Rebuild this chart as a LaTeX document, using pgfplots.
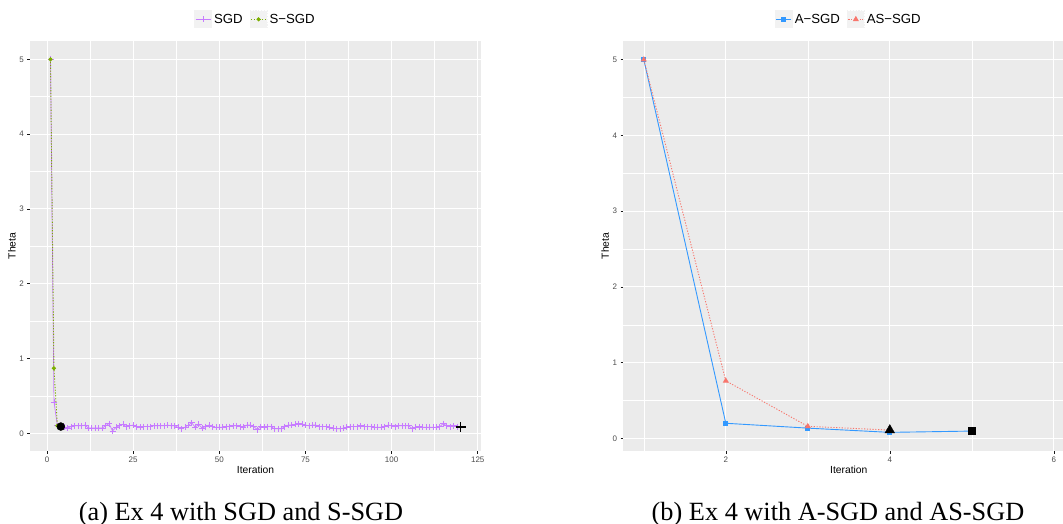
\documentclass[border=0pt]{standalone}
\usepackage{pgfplots}
\pgfplotsset{compat=1.18}
\usepackage{fontspec}
\setmainfont{Liberation Sans}
\newfontfamily\capfont{Liberation Serif}

\definecolor{sgd}{HTML}{C77CFF}
\definecolor{ssgd}{HTML}{7CAE00}
\definecolor{asgd}{HTML}{3399FF}
\definecolor{assgd}{HTML}{F8766D}
\definecolor{panelbg}{HTML}{EBEBEB}
\definecolor{keybg}{HTML}{F2F2F2}
\definecolor{ticklab}{HTML}{4D4D4D}

\pgfplotsset{
  ggpanel/.style={
    scale only axis,
    width=451pt, height=410pt,
    axis background/.style={fill=panelbg},
    axis line style={draw=none},
    grid=both,
    major grid style={white, line width=1.1pt},
    minor grid style={white, line width=0.55pt},
    tick align=outside, tick pos=left,
    major tick length=2.75pt, minor tick length=0pt,
    tick style={gray!20!black, line width=0.5pt},
    tick label style={font=\fontsize{8}{9}\selectfont, text=ticklab},
    /pgf/number format/assume math mode=true,
    xlabel style={font=\fontsize{10.3}{12}\selectfont, at={(axis description cs:0.5,0)}, anchor=center, yshift=-19pt},
    ylabel style={font=\fontsize{10.3}{12}\selectfont, at={(axis description cs:0,0.5)}, anchor=center, yshift=18pt},
    legend columns=2,
    legend style={at={(0.5,1)}, anchor=south, yshift=12.5pt, draw=none, fill=none,
      font=\fontsize{13.2}{15}\selectfont, inner sep=0pt,
      /tikz/every even column/.append style={column sep=5pt}},
    legend image code/.code={
      \fill[keybg] (0pt,-8.5pt) rectangle (17pt,8.5pt);
      \draw[mark repeat=2, mark phase=2, #1] plot coordinates {(1pt,0pt) (8.5pt,0pt) (16pt,0pt)};
    },
  }
}

\begin{document}
\begin{tikzpicture}
\useasboundingbox (0,0) rectangle (1063pt,-524pt);

% ---------- (a) ----------
\begin{axis}[ggpanel,
  at={(30pt,-41pt)}, anchor=north west,
  xmin=-4.95, xmax=125.95, ymin=-0.237, ymax=5.245,
  xtick={0,25,50,75,100,125}, minor xtick={12.5,37.5,62.5,87.5,112.5},
  ytick={0,1,2,3,4,5}, minor ytick={0.5,1.5,2.5,3.5,4.5},
  xlabel={Iteration}, ylabel={Theta},
]
\addplot[sgd, line width=0.7pt, mark=+, mark size=3pt] coordinates {
(1,5) (2,0.42) (3,0.10) (4,0.08) (5,0.08) (6,0.07) (7,0.09) (8,0.10) (9,0.10) (10,0.10)
(11,0.11) (12,0.07) (13,0.07) (14,0.07) (15,0.07) (16,0.07) (17,0.10) (18,0.13) (19,0.03) (20,0.08)
(21,0.10) (22,0.12) (23,0.09) (24,0.10) (25,0.11) (26,0.09) (27,0.08) (28,0.09) (29,0.09) (30,0.09)
(31,0.10) (32,0.10) (33,0.10) (34,0.10) (35,0.11) (36,0.10) (37,0.10) (38,0.08) (39,0.06) (40,0.08)
(41,0.11) (42,0.14) (43,0.08) (44,0.12) (45,0.07) (46,0.09) (47,0.11) (48,0.09) (49,0.08) (50,0.08)
(51,0.08) (52,0.09) (53,0.09) (54,0.10) (55,0.10) (56,0.09) (57,0.08) (58,0.11) (59,0.11) (60,0.09)
(61,0.05) (62,0.09) (63,0.08) (64,0.09) (65,0.09) (66,0.06) (67,0.06) (68,0.06) (69,0.09) (70,0.11)
(71,0.11) (72,0.12) (73,0.13) (74,0.12) (75,0.11) (76,0.10) (77,0.11) (78,0.11) (79,0.09) (80,0.09)
(81,0.09) (82,0.08) (83,0.07) (84,0.06) (85,0.06) (86,0.07) (87,0.08) (88,0.09) (89,0.09) (90,0.09)
(91,0.10) (92,0.09) (93,0.09) (94,0.09) (95,0.08) (96,0.08) (97,0.08) (98,0.09) (99,0.11) (100,0.10)
(101,0.09) (102,0.10) (103,0.10) (104,0.10) (105,0.10) (106,0.06) (107,0.08) (108,0.09) (109,0.08) (110,0.08)
(111,0.08) (112,0.08) (113,0.08) (114,0.09) (115,0.13) (116,0.10) (117,0.09) (118,0.10) (119,0.09) (120,0.08)
};
\addplot[ssgd, line width=0.9pt, dash pattern=on 1.2pt off 1.6pt, mark=*, mark size=1.6pt, mark options={solid}] coordinates {
(1,5) (2,0.87) (3,0.10) (4,0.09)
};
\addplot[only marks, black, mark=*, mark size=4pt, forget plot] coordinates {(4,0.09)};
\addplot[only marks, black, mark=+, mark size=5pt, mark options={line width=1.6pt}, forget plot] coordinates {(120,0.08)};
\legend{SGD, S−SGD}
\end{axis}

% ---------- (b) ----------
\begin{axis}[ggpanel,
  at={(623.3pt,-41pt)}, anchor=north west,
  xmin=0.75, xmax=6.25, ymin=-0.166, ymax=5.246,
  xtick={2,4,6}, minor xtick={1,3,5},
  ytick={0,1,2,3,4,5}, minor ytick={0.5,1.5,2.5,3.5,4.5},
  xlabel={Iteration}, ylabel={Theta},
]
\addplot[asgd, line width=0.9pt, mark=square*, mark size=2pt] coordinates {
(1,5) (2,0.20) (3,0.136) (4,0.08) (5,0.097)
};
\addplot[assgd, line width=0.9pt, dash pattern=on 1.2pt off 1.6pt, mark=triangle*, mark size=2.6pt, mark options={solid}] coordinates {
(1,5) (2,0.76) (3,0.16) (4,0.11)
};
\addplot[only marks, black, mark=triangle*, mark size=5.5pt, forget plot] coordinates {(4,0.11)};
\addplot[only marks, black, mark=square*, mark size=3.6pt, forget plot] coordinates {(5,0.097)};
\legend{A−SGD, AS−SGD}
\end{axis}

\node[font=\capfont\fontsize{26.3}{29}\selectfont, anchor=base] at (241pt,-520pt) {(a) Ex 4 with SGD and S-SGD};
\node[font=\capfont\fontsize{26.3}{29}\selectfont, anchor=base] at (838pt,-520pt) {(b) Ex 4 with A-SGD and AS-SGD};
\end{tikzpicture}
\end{document}
